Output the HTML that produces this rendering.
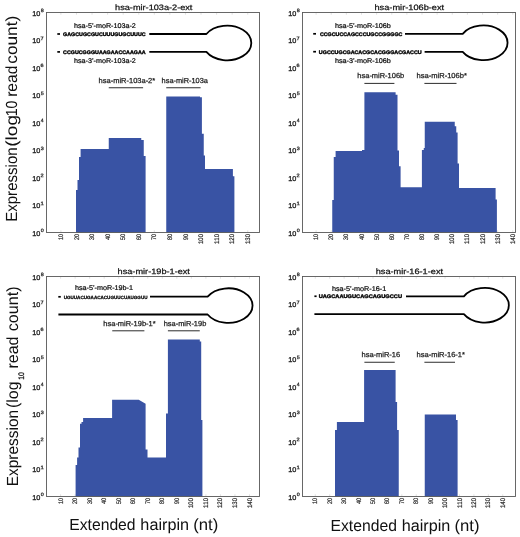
<!DOCTYPE html>
<html><head><meta charset="utf-8"><title>hairpin expression</title>
<style>
html,body{margin:0;padding:0;background:#fff;}
body{width:520px;height:537px;overflow:hidden;}
svg{display:block;font-family:"Liberation Sans", sans-serif;will-change:transform;transform:translateZ(0);}
text{font-family:"Liberation Sans", sans-serif;font-kerning:none;text-rendering:geometricPrecision;}
</style></head>
<body>
<svg width="520" height="537" viewBox="0 0 520 537">
<line x1="60.90" y1="230.30" x2="60.90" y2="232.10" stroke="#d4d4d4" stroke-width="0.7"/>
<line x1="60.90" y1="12.90" x2="60.90" y2="14.70" stroke="#d4d4d4" stroke-width="0.7"/>
<line x1="76.47" y1="230.30" x2="76.47" y2="232.10" stroke="#d4d4d4" stroke-width="0.7"/>
<line x1="76.47" y1="12.90" x2="76.47" y2="14.70" stroke="#d4d4d4" stroke-width="0.7"/>
<line x1="92.04" y1="230.30" x2="92.04" y2="232.10" stroke="#d4d4d4" stroke-width="0.7"/>
<line x1="92.04" y1="12.90" x2="92.04" y2="14.70" stroke="#d4d4d4" stroke-width="0.7"/>
<line x1="107.61" y1="230.30" x2="107.61" y2="232.10" stroke="#d4d4d4" stroke-width="0.7"/>
<line x1="107.61" y1="12.90" x2="107.61" y2="14.70" stroke="#d4d4d4" stroke-width="0.7"/>
<line x1="123.18" y1="230.30" x2="123.18" y2="232.10" stroke="#d4d4d4" stroke-width="0.7"/>
<line x1="123.18" y1="12.90" x2="123.18" y2="14.70" stroke="#d4d4d4" stroke-width="0.7"/>
<line x1="138.75" y1="230.30" x2="138.75" y2="232.10" stroke="#d4d4d4" stroke-width="0.7"/>
<line x1="138.75" y1="12.90" x2="138.75" y2="14.70" stroke="#d4d4d4" stroke-width="0.7"/>
<line x1="154.32" y1="230.30" x2="154.32" y2="232.10" stroke="#d4d4d4" stroke-width="0.7"/>
<line x1="154.32" y1="12.90" x2="154.32" y2="14.70" stroke="#d4d4d4" stroke-width="0.7"/>
<line x1="169.89" y1="230.30" x2="169.89" y2="232.10" stroke="#d4d4d4" stroke-width="0.7"/>
<line x1="169.89" y1="12.90" x2="169.89" y2="14.70" stroke="#d4d4d4" stroke-width="0.7"/>
<line x1="185.46" y1="230.30" x2="185.46" y2="232.10" stroke="#d4d4d4" stroke-width="0.7"/>
<line x1="185.46" y1="12.90" x2="185.46" y2="14.70" stroke="#d4d4d4" stroke-width="0.7"/>
<line x1="201.03" y1="230.30" x2="201.03" y2="232.10" stroke="#d4d4d4" stroke-width="0.7"/>
<line x1="201.03" y1="12.90" x2="201.03" y2="14.70" stroke="#d4d4d4" stroke-width="0.7"/>
<line x1="216.60" y1="230.30" x2="216.60" y2="232.10" stroke="#d4d4d4" stroke-width="0.7"/>
<line x1="216.60" y1="12.90" x2="216.60" y2="14.70" stroke="#d4d4d4" stroke-width="0.7"/>
<line x1="232.17" y1="230.30" x2="232.17" y2="232.10" stroke="#d4d4d4" stroke-width="0.7"/>
<line x1="232.17" y1="12.90" x2="232.17" y2="14.70" stroke="#d4d4d4" stroke-width="0.7"/>
<line x1="247.74" y1="230.30" x2="247.74" y2="232.10" stroke="#d4d4d4" stroke-width="0.7"/>
<line x1="247.74" y1="12.90" x2="247.74" y2="14.70" stroke="#d4d4d4" stroke-width="0.7"/>
<line x1="316.10" y1="230.30" x2="316.10" y2="232.10" stroke="#d4d4d4" stroke-width="0.7"/>
<line x1="316.10" y1="12.90" x2="316.10" y2="14.70" stroke="#d4d4d4" stroke-width="0.7"/>
<line x1="331.23" y1="230.30" x2="331.23" y2="232.10" stroke="#d4d4d4" stroke-width="0.7"/>
<line x1="331.23" y1="12.90" x2="331.23" y2="14.70" stroke="#d4d4d4" stroke-width="0.7"/>
<line x1="346.36" y1="230.30" x2="346.36" y2="232.10" stroke="#d4d4d4" stroke-width="0.7"/>
<line x1="346.36" y1="12.90" x2="346.36" y2="14.70" stroke="#d4d4d4" stroke-width="0.7"/>
<line x1="361.49" y1="230.30" x2="361.49" y2="232.10" stroke="#d4d4d4" stroke-width="0.7"/>
<line x1="361.49" y1="12.90" x2="361.49" y2="14.70" stroke="#d4d4d4" stroke-width="0.7"/>
<line x1="376.62" y1="230.30" x2="376.62" y2="232.10" stroke="#d4d4d4" stroke-width="0.7"/>
<line x1="376.62" y1="12.90" x2="376.62" y2="14.70" stroke="#d4d4d4" stroke-width="0.7"/>
<line x1="391.75" y1="230.30" x2="391.75" y2="232.10" stroke="#d4d4d4" stroke-width="0.7"/>
<line x1="391.75" y1="12.90" x2="391.75" y2="14.70" stroke="#d4d4d4" stroke-width="0.7"/>
<line x1="406.88" y1="230.30" x2="406.88" y2="232.10" stroke="#d4d4d4" stroke-width="0.7"/>
<line x1="406.88" y1="12.90" x2="406.88" y2="14.70" stroke="#d4d4d4" stroke-width="0.7"/>
<line x1="422.01" y1="230.30" x2="422.01" y2="232.10" stroke="#d4d4d4" stroke-width="0.7"/>
<line x1="422.01" y1="12.90" x2="422.01" y2="14.70" stroke="#d4d4d4" stroke-width="0.7"/>
<line x1="437.14" y1="230.30" x2="437.14" y2="232.10" stroke="#d4d4d4" stroke-width="0.7"/>
<line x1="437.14" y1="12.90" x2="437.14" y2="14.70" stroke="#d4d4d4" stroke-width="0.7"/>
<line x1="452.27" y1="230.30" x2="452.27" y2="232.10" stroke="#d4d4d4" stroke-width="0.7"/>
<line x1="452.27" y1="12.90" x2="452.27" y2="14.70" stroke="#d4d4d4" stroke-width="0.7"/>
<line x1="467.40" y1="230.30" x2="467.40" y2="232.10" stroke="#d4d4d4" stroke-width="0.7"/>
<line x1="467.40" y1="12.90" x2="467.40" y2="14.70" stroke="#d4d4d4" stroke-width="0.7"/>
<line x1="482.53" y1="230.30" x2="482.53" y2="232.10" stroke="#d4d4d4" stroke-width="0.7"/>
<line x1="482.53" y1="12.90" x2="482.53" y2="14.70" stroke="#d4d4d4" stroke-width="0.7"/>
<line x1="497.66" y1="230.30" x2="497.66" y2="232.10" stroke="#d4d4d4" stroke-width="0.7"/>
<line x1="497.66" y1="12.90" x2="497.66" y2="14.70" stroke="#d4d4d4" stroke-width="0.7"/>
<line x1="512.79" y1="230.30" x2="512.79" y2="232.10" stroke="#d4d4d4" stroke-width="0.7"/>
<line x1="512.79" y1="12.90" x2="512.79" y2="14.70" stroke="#d4d4d4" stroke-width="0.7"/>
<line x1="60.60" y1="494.30" x2="60.60" y2="496.10" stroke="#d4d4d4" stroke-width="0.7"/>
<line x1="60.60" y1="276.90" x2="60.60" y2="278.70" stroke="#d4d4d4" stroke-width="0.7"/>
<line x1="75.13" y1="494.30" x2="75.13" y2="496.10" stroke="#d4d4d4" stroke-width="0.7"/>
<line x1="75.13" y1="276.90" x2="75.13" y2="278.70" stroke="#d4d4d4" stroke-width="0.7"/>
<line x1="89.66" y1="494.30" x2="89.66" y2="496.10" stroke="#d4d4d4" stroke-width="0.7"/>
<line x1="89.66" y1="276.90" x2="89.66" y2="278.70" stroke="#d4d4d4" stroke-width="0.7"/>
<line x1="104.19" y1="494.30" x2="104.19" y2="496.10" stroke="#d4d4d4" stroke-width="0.7"/>
<line x1="104.19" y1="276.90" x2="104.19" y2="278.70" stroke="#d4d4d4" stroke-width="0.7"/>
<line x1="118.72" y1="494.30" x2="118.72" y2="496.10" stroke="#d4d4d4" stroke-width="0.7"/>
<line x1="118.72" y1="276.90" x2="118.72" y2="278.70" stroke="#d4d4d4" stroke-width="0.7"/>
<line x1="133.25" y1="494.30" x2="133.25" y2="496.10" stroke="#d4d4d4" stroke-width="0.7"/>
<line x1="133.25" y1="276.90" x2="133.25" y2="278.70" stroke="#d4d4d4" stroke-width="0.7"/>
<line x1="147.78" y1="494.30" x2="147.78" y2="496.10" stroke="#d4d4d4" stroke-width="0.7"/>
<line x1="147.78" y1="276.90" x2="147.78" y2="278.70" stroke="#d4d4d4" stroke-width="0.7"/>
<line x1="162.31" y1="494.30" x2="162.31" y2="496.10" stroke="#d4d4d4" stroke-width="0.7"/>
<line x1="162.31" y1="276.90" x2="162.31" y2="278.70" stroke="#d4d4d4" stroke-width="0.7"/>
<line x1="176.84" y1="494.30" x2="176.84" y2="496.10" stroke="#d4d4d4" stroke-width="0.7"/>
<line x1="176.84" y1="276.90" x2="176.84" y2="278.70" stroke="#d4d4d4" stroke-width="0.7"/>
<line x1="191.37" y1="494.30" x2="191.37" y2="496.10" stroke="#d4d4d4" stroke-width="0.7"/>
<line x1="191.37" y1="276.90" x2="191.37" y2="278.70" stroke="#d4d4d4" stroke-width="0.7"/>
<line x1="205.90" y1="494.30" x2="205.90" y2="496.10" stroke="#d4d4d4" stroke-width="0.7"/>
<line x1="205.90" y1="276.90" x2="205.90" y2="278.70" stroke="#d4d4d4" stroke-width="0.7"/>
<line x1="220.43" y1="494.30" x2="220.43" y2="496.10" stroke="#d4d4d4" stroke-width="0.7"/>
<line x1="220.43" y1="276.90" x2="220.43" y2="278.70" stroke="#d4d4d4" stroke-width="0.7"/>
<line x1="234.96" y1="494.30" x2="234.96" y2="496.10" stroke="#d4d4d4" stroke-width="0.7"/>
<line x1="234.96" y1="276.90" x2="234.96" y2="278.70" stroke="#d4d4d4" stroke-width="0.7"/>
<line x1="249.49" y1="494.30" x2="249.49" y2="496.10" stroke="#d4d4d4" stroke-width="0.7"/>
<line x1="249.49" y1="276.90" x2="249.49" y2="278.70" stroke="#d4d4d4" stroke-width="0.7"/>
<line x1="315.30" y1="494.30" x2="315.30" y2="496.10" stroke="#d4d4d4" stroke-width="0.7"/>
<line x1="315.30" y1="276.90" x2="315.30" y2="278.70" stroke="#d4d4d4" stroke-width="0.7"/>
<line x1="329.72" y1="494.30" x2="329.72" y2="496.10" stroke="#d4d4d4" stroke-width="0.7"/>
<line x1="329.72" y1="276.90" x2="329.72" y2="278.70" stroke="#d4d4d4" stroke-width="0.7"/>
<line x1="344.14" y1="494.30" x2="344.14" y2="496.10" stroke="#d4d4d4" stroke-width="0.7"/>
<line x1="344.14" y1="276.90" x2="344.14" y2="278.70" stroke="#d4d4d4" stroke-width="0.7"/>
<line x1="358.56" y1="494.30" x2="358.56" y2="496.10" stroke="#d4d4d4" stroke-width="0.7"/>
<line x1="358.56" y1="276.90" x2="358.56" y2="278.70" stroke="#d4d4d4" stroke-width="0.7"/>
<line x1="372.98" y1="494.30" x2="372.98" y2="496.10" stroke="#d4d4d4" stroke-width="0.7"/>
<line x1="372.98" y1="276.90" x2="372.98" y2="278.70" stroke="#d4d4d4" stroke-width="0.7"/>
<line x1="387.40" y1="494.30" x2="387.40" y2="496.10" stroke="#d4d4d4" stroke-width="0.7"/>
<line x1="387.40" y1="276.90" x2="387.40" y2="278.70" stroke="#d4d4d4" stroke-width="0.7"/>
<line x1="401.82" y1="494.30" x2="401.82" y2="496.10" stroke="#d4d4d4" stroke-width="0.7"/>
<line x1="401.82" y1="276.90" x2="401.82" y2="278.70" stroke="#d4d4d4" stroke-width="0.7"/>
<line x1="416.24" y1="494.30" x2="416.24" y2="496.10" stroke="#d4d4d4" stroke-width="0.7"/>
<line x1="416.24" y1="276.90" x2="416.24" y2="278.70" stroke="#d4d4d4" stroke-width="0.7"/>
<line x1="430.66" y1="494.30" x2="430.66" y2="496.10" stroke="#d4d4d4" stroke-width="0.7"/>
<line x1="430.66" y1="276.90" x2="430.66" y2="278.70" stroke="#d4d4d4" stroke-width="0.7"/>
<line x1="445.08" y1="494.30" x2="445.08" y2="496.10" stroke="#d4d4d4" stroke-width="0.7"/>
<line x1="445.08" y1="276.90" x2="445.08" y2="278.70" stroke="#d4d4d4" stroke-width="0.7"/>
<line x1="459.50" y1="494.30" x2="459.50" y2="496.10" stroke="#d4d4d4" stroke-width="0.7"/>
<line x1="459.50" y1="276.90" x2="459.50" y2="278.70" stroke="#d4d4d4" stroke-width="0.7"/>
<line x1="473.92" y1="494.30" x2="473.92" y2="496.10" stroke="#d4d4d4" stroke-width="0.7"/>
<line x1="473.92" y1="276.90" x2="473.92" y2="278.70" stroke="#d4d4d4" stroke-width="0.7"/>
<line x1="488.34" y1="494.30" x2="488.34" y2="496.10" stroke="#d4d4d4" stroke-width="0.7"/>
<line x1="488.34" y1="276.90" x2="488.34" y2="278.70" stroke="#d4d4d4" stroke-width="0.7"/>
<line x1="502.76" y1="494.30" x2="502.76" y2="496.10" stroke="#d4d4d4" stroke-width="0.7"/>
<line x1="502.76" y1="276.90" x2="502.76" y2="278.70" stroke="#d4d4d4" stroke-width="0.7"/>
<path d="M76.00,232.50 L76.00,190.00 L77.50,190.00 L77.50,180.00 L79.00,180.00 L79.00,157.00 L80.60,157.00 L80.60,149.00 L108.75,149.00 L108.75,138.10 L141.25,138.10 L141.25,140.00 L143.75,140.00 L143.75,156.00 L145.60,156.00 L145.60,232.50 Z" fill="#3953a4" stroke="none"/>
<path d="M166.25,232.50 L166.25,96.50 L200.00,96.50 L200.00,97.20 L201.90,97.20 L201.90,133.75 L203.75,133.75 L203.75,155.60 L205.00,155.60 L205.00,169.00 L232.90,169.00 L232.90,176.25 L234.40,176.25 L234.40,232.50 Z" fill="#3953a4" stroke="none"/>
<path d="M332.25,232.50 L332.25,200.00 L333.75,200.00 L333.75,157.00 L335.60,157.00 L335.60,151.00 L362.00,151.00 L362.00,150.00 L364.40,150.00 L364.40,92.25 L395.60,92.25 L395.60,94.75 L397.50,94.75 L397.50,150.60 L399.00,150.60 L399.00,166.25 L400.60,166.25 L400.60,187.25 L421.90,187.25 L421.90,150.00 L423.75,150.00 L423.75,148.00 L424.75,148.00 L424.75,121.70 L454.75,121.70 L454.75,126.25 L456.25,126.25 L456.25,132.50 L457.60,132.50 L457.60,163.50 L459.00,163.50 L459.00,188.10 L495.60,188.10 L495.60,199.40 L496.90,199.40 L496.90,232.50 Z" fill="#3953a4" stroke="none"/>
<path d="M75.60,496.50 L75.60,465.00 L77.10,465.00 L77.10,457.50 L78.50,457.50 L78.50,447.50 L80.00,447.50 L80.00,423.75 L81.50,423.75 L81.50,421.90 L83.10,421.90 L83.10,418.10 L112.10,418.10 L112.10,399.75 L138.75,399.75 L145.60,403.75 L145.60,449.40 L147.50,449.40 L147.50,457.50 L166.00,457.50 L166.00,413.50 L167.90,413.50 L167.90,339.50 L199.80,339.50 L199.80,341.40 L201.20,341.40 L201.20,420.00 L202.40,420.00 L202.40,496.50 Z" fill="#3953a4" stroke="none"/>
<path d="M335.00,496.50 L335.00,430.00 L336.90,430.00 L336.90,421.90 L364.10,421.90 L364.10,370.00 L395.60,370.00 L395.60,402.00 L397.10,402.00 L397.10,430.00 L398.75,430.00 L398.75,496.50 Z" fill="#3953a4" stroke="none"/>
<path d="M424.75,496.50 L424.75,414.40 L456.00,414.40 L456.00,420.00 L457.60,420.00 L457.60,496.50 Z" fill="#3953a4" stroke="none"/>
<rect x="46.5" y="12.5" width="213.0" height="220.0" fill="none" stroke="#585858" stroke-width="0.9"/>
<rect x="302.5" y="12.5" width="213.0" height="220.0" fill="none" stroke="#585858" stroke-width="0.9"/>
<rect x="46.5" y="276.5" width="213.0" height="220.0" fill="none" stroke="#585858" stroke-width="0.9"/>
<rect x="302.5" y="276.5" width="213.0" height="220.0" fill="none" stroke="#585858" stroke-width="0.9"/>
<text x="32.19" y="15.90" font-size="6.9" font-weight="normal" fill="#262626" stroke="#262626" stroke-width="0.3" textLength="8.14" lengthAdjust="spacingAndGlyphs" >10</text>
<text x="40.69" y="12.10" font-size="4.8" font-weight="normal" fill="#262626" stroke="#262626" stroke-width="0.25" textLength="3.02" lengthAdjust="spacingAndGlyphs" >8</text>
<text x="32.19" y="43.40" font-size="6.9" font-weight="normal" fill="#262626" stroke="#262626" stroke-width="0.3" textLength="8.14" lengthAdjust="spacingAndGlyphs" >10</text>
<text x="40.64" y="39.60" font-size="4.8" font-weight="normal" fill="#262626" stroke="#262626" stroke-width="0.25" textLength="3.12" lengthAdjust="spacingAndGlyphs" >7</text>
<text x="32.19" y="70.90" font-size="6.9" font-weight="normal" fill="#262626" stroke="#262626" stroke-width="0.3" textLength="8.14" lengthAdjust="spacingAndGlyphs" >10</text>
<text x="40.64" y="67.10" font-size="4.8" font-weight="normal" fill="#262626" stroke="#262626" stroke-width="0.25" textLength="3.07" lengthAdjust="spacingAndGlyphs" >6</text>
<text x="32.19" y="98.40" font-size="6.9" font-weight="normal" fill="#262626" stroke="#262626" stroke-width="0.3" textLength="8.14" lengthAdjust="spacingAndGlyphs" >10</text>
<text x="40.71" y="94.60" font-size="4.8" font-weight="normal" fill="#262626" stroke="#262626" stroke-width="0.25" textLength="2.99" lengthAdjust="spacingAndGlyphs" >5</text>
<text x="32.19" y="125.90" font-size="6.9" font-weight="normal" fill="#262626" stroke="#262626" stroke-width="0.3" textLength="8.14" lengthAdjust="spacingAndGlyphs" >10</text>
<text x="40.81" y="122.10" font-size="4.8" font-weight="normal" fill="#262626" stroke="#262626" stroke-width="0.25" textLength="2.81" lengthAdjust="spacingAndGlyphs" >4</text>
<text x="32.19" y="153.40" font-size="6.9" font-weight="normal" fill="#262626" stroke="#262626" stroke-width="0.3" textLength="8.14" lengthAdjust="spacingAndGlyphs" >10</text>
<text x="40.72" y="149.60" font-size="4.8" font-weight="normal" fill="#262626" stroke="#262626" stroke-width="0.25" textLength="2.99" lengthAdjust="spacingAndGlyphs" >3</text>
<text x="32.19" y="180.90" font-size="6.9" font-weight="normal" fill="#262626" stroke="#262626" stroke-width="0.3" textLength="8.14" lengthAdjust="spacingAndGlyphs" >10</text>
<text x="40.64" y="177.10" font-size="4.8" font-weight="normal" fill="#262626" stroke="#262626" stroke-width="0.25" textLength="3.11" lengthAdjust="spacingAndGlyphs" >2</text>
<text x="32.19" y="208.40" font-size="6.9" font-weight="normal" fill="#262626" stroke="#262626" stroke-width="0.3" textLength="8.14" lengthAdjust="spacingAndGlyphs" >10</text>
<text x="40.47" y="204.60" font-size="4.8" font-weight="normal" fill="#262626" stroke="#262626" stroke-width="0.25" textLength="3.29" lengthAdjust="spacingAndGlyphs" >1</text>
<text x="32.19" y="235.90" font-size="6.9" font-weight="normal" fill="#262626" stroke="#262626" stroke-width="0.3" textLength="8.14" lengthAdjust="spacingAndGlyphs" >10</text>
<text x="40.72" y="232.10" font-size="4.8" font-weight="normal" fill="#262626" stroke="#262626" stroke-width="0.25" textLength="2.97" lengthAdjust="spacingAndGlyphs" >0</text>
<text x="288.19" y="15.90" font-size="6.9" font-weight="normal" fill="#262626" stroke="#262626" stroke-width="0.3" textLength="8.14" lengthAdjust="spacingAndGlyphs" >10</text>
<text x="296.69" y="12.10" font-size="4.8" font-weight="normal" fill="#262626" stroke="#262626" stroke-width="0.25" textLength="3.02" lengthAdjust="spacingAndGlyphs" >8</text>
<text x="288.19" y="43.40" font-size="6.9" font-weight="normal" fill="#262626" stroke="#262626" stroke-width="0.3" textLength="8.14" lengthAdjust="spacingAndGlyphs" >10</text>
<text x="296.64" y="39.60" font-size="4.8" font-weight="normal" fill="#262626" stroke="#262626" stroke-width="0.25" textLength="3.12" lengthAdjust="spacingAndGlyphs" >7</text>
<text x="288.19" y="70.90" font-size="6.9" font-weight="normal" fill="#262626" stroke="#262626" stroke-width="0.3" textLength="8.14" lengthAdjust="spacingAndGlyphs" >10</text>
<text x="296.64" y="67.10" font-size="4.8" font-weight="normal" fill="#262626" stroke="#262626" stroke-width="0.25" textLength="3.07" lengthAdjust="spacingAndGlyphs" >6</text>
<text x="288.19" y="98.40" font-size="6.9" font-weight="normal" fill="#262626" stroke="#262626" stroke-width="0.3" textLength="8.14" lengthAdjust="spacingAndGlyphs" >10</text>
<text x="296.71" y="94.60" font-size="4.8" font-weight="normal" fill="#262626" stroke="#262626" stroke-width="0.25" textLength="2.99" lengthAdjust="spacingAndGlyphs" >5</text>
<text x="288.19" y="125.90" font-size="6.9" font-weight="normal" fill="#262626" stroke="#262626" stroke-width="0.3" textLength="8.14" lengthAdjust="spacingAndGlyphs" >10</text>
<text x="296.81" y="122.10" font-size="4.8" font-weight="normal" fill="#262626" stroke="#262626" stroke-width="0.25" textLength="2.81" lengthAdjust="spacingAndGlyphs" >4</text>
<text x="288.19" y="153.40" font-size="6.9" font-weight="normal" fill="#262626" stroke="#262626" stroke-width="0.3" textLength="8.14" lengthAdjust="spacingAndGlyphs" >10</text>
<text x="296.72" y="149.60" font-size="4.8" font-weight="normal" fill="#262626" stroke="#262626" stroke-width="0.25" textLength="2.99" lengthAdjust="spacingAndGlyphs" >3</text>
<text x="288.19" y="180.90" font-size="6.9" font-weight="normal" fill="#262626" stroke="#262626" stroke-width="0.3" textLength="8.14" lengthAdjust="spacingAndGlyphs" >10</text>
<text x="296.64" y="177.10" font-size="4.8" font-weight="normal" fill="#262626" stroke="#262626" stroke-width="0.25" textLength="3.11" lengthAdjust="spacingAndGlyphs" >2</text>
<text x="288.19" y="208.40" font-size="6.9" font-weight="normal" fill="#262626" stroke="#262626" stroke-width="0.3" textLength="8.14" lengthAdjust="spacingAndGlyphs" >10</text>
<text x="296.47" y="204.60" font-size="4.8" font-weight="normal" fill="#262626" stroke="#262626" stroke-width="0.25" textLength="3.29" lengthAdjust="spacingAndGlyphs" >1</text>
<text x="288.19" y="235.90" font-size="6.9" font-weight="normal" fill="#262626" stroke="#262626" stroke-width="0.3" textLength="8.14" lengthAdjust="spacingAndGlyphs" >10</text>
<text x="296.72" y="232.10" font-size="4.8" font-weight="normal" fill="#262626" stroke="#262626" stroke-width="0.25" textLength="2.97" lengthAdjust="spacingAndGlyphs" >0</text>
<text x="32.19" y="279.90" font-size="6.9" font-weight="normal" fill="#262626" stroke="#262626" stroke-width="0.3" textLength="8.14" lengthAdjust="spacingAndGlyphs" >10</text>
<text x="40.69" y="276.10" font-size="4.8" font-weight="normal" fill="#262626" stroke="#262626" stroke-width="0.25" textLength="3.02" lengthAdjust="spacingAndGlyphs" >8</text>
<text x="32.19" y="307.40" font-size="6.9" font-weight="normal" fill="#262626" stroke="#262626" stroke-width="0.3" textLength="8.14" lengthAdjust="spacingAndGlyphs" >10</text>
<text x="40.64" y="303.60" font-size="4.8" font-weight="normal" fill="#262626" stroke="#262626" stroke-width="0.25" textLength="3.12" lengthAdjust="spacingAndGlyphs" >7</text>
<text x="32.19" y="334.90" font-size="6.9" font-weight="normal" fill="#262626" stroke="#262626" stroke-width="0.3" textLength="8.14" lengthAdjust="spacingAndGlyphs" >10</text>
<text x="40.64" y="331.10" font-size="4.8" font-weight="normal" fill="#262626" stroke="#262626" stroke-width="0.25" textLength="3.07" lengthAdjust="spacingAndGlyphs" >6</text>
<text x="32.19" y="362.40" font-size="6.9" font-weight="normal" fill="#262626" stroke="#262626" stroke-width="0.3" textLength="8.14" lengthAdjust="spacingAndGlyphs" >10</text>
<text x="40.71" y="358.60" font-size="4.8" font-weight="normal" fill="#262626" stroke="#262626" stroke-width="0.25" textLength="2.99" lengthAdjust="spacingAndGlyphs" >5</text>
<text x="32.19" y="389.90" font-size="6.9" font-weight="normal" fill="#262626" stroke="#262626" stroke-width="0.3" textLength="8.14" lengthAdjust="spacingAndGlyphs" >10</text>
<text x="40.81" y="386.10" font-size="4.8" font-weight="normal" fill="#262626" stroke="#262626" stroke-width="0.25" textLength="2.81" lengthAdjust="spacingAndGlyphs" >4</text>
<text x="32.19" y="417.40" font-size="6.9" font-weight="normal" fill="#262626" stroke="#262626" stroke-width="0.3" textLength="8.14" lengthAdjust="spacingAndGlyphs" >10</text>
<text x="40.72" y="413.60" font-size="4.8" font-weight="normal" fill="#262626" stroke="#262626" stroke-width="0.25" textLength="2.99" lengthAdjust="spacingAndGlyphs" >3</text>
<text x="32.19" y="444.90" font-size="6.9" font-weight="normal" fill="#262626" stroke="#262626" stroke-width="0.3" textLength="8.14" lengthAdjust="spacingAndGlyphs" >10</text>
<text x="40.64" y="441.10" font-size="4.8" font-weight="normal" fill="#262626" stroke="#262626" stroke-width="0.25" textLength="3.11" lengthAdjust="spacingAndGlyphs" >2</text>
<text x="32.19" y="472.40" font-size="6.9" font-weight="normal" fill="#262626" stroke="#262626" stroke-width="0.3" textLength="8.14" lengthAdjust="spacingAndGlyphs" >10</text>
<text x="40.47" y="468.60" font-size="4.8" font-weight="normal" fill="#262626" stroke="#262626" stroke-width="0.25" textLength="3.29" lengthAdjust="spacingAndGlyphs" >1</text>
<text x="32.19" y="499.90" font-size="6.9" font-weight="normal" fill="#262626" stroke="#262626" stroke-width="0.3" textLength="8.14" lengthAdjust="spacingAndGlyphs" >10</text>
<text x="40.72" y="496.10" font-size="4.8" font-weight="normal" fill="#262626" stroke="#262626" stroke-width="0.25" textLength="2.97" lengthAdjust="spacingAndGlyphs" >0</text>
<text x="288.19" y="279.90" font-size="6.9" font-weight="normal" fill="#262626" stroke="#262626" stroke-width="0.3" textLength="8.14" lengthAdjust="spacingAndGlyphs" >10</text>
<text x="296.69" y="276.10" font-size="4.8" font-weight="normal" fill="#262626" stroke="#262626" stroke-width="0.25" textLength="3.02" lengthAdjust="spacingAndGlyphs" >8</text>
<text x="288.19" y="307.40" font-size="6.9" font-weight="normal" fill="#262626" stroke="#262626" stroke-width="0.3" textLength="8.14" lengthAdjust="spacingAndGlyphs" >10</text>
<text x="296.64" y="303.60" font-size="4.8" font-weight="normal" fill="#262626" stroke="#262626" stroke-width="0.25" textLength="3.12" lengthAdjust="spacingAndGlyphs" >7</text>
<text x="288.19" y="334.90" font-size="6.9" font-weight="normal" fill="#262626" stroke="#262626" stroke-width="0.3" textLength="8.14" lengthAdjust="spacingAndGlyphs" >10</text>
<text x="296.64" y="331.10" font-size="4.8" font-weight="normal" fill="#262626" stroke="#262626" stroke-width="0.25" textLength="3.07" lengthAdjust="spacingAndGlyphs" >6</text>
<text x="288.19" y="362.40" font-size="6.9" font-weight="normal" fill="#262626" stroke="#262626" stroke-width="0.3" textLength="8.14" lengthAdjust="spacingAndGlyphs" >10</text>
<text x="296.71" y="358.60" font-size="4.8" font-weight="normal" fill="#262626" stroke="#262626" stroke-width="0.25" textLength="2.99" lengthAdjust="spacingAndGlyphs" >5</text>
<text x="288.19" y="389.90" font-size="6.9" font-weight="normal" fill="#262626" stroke="#262626" stroke-width="0.3" textLength="8.14" lengthAdjust="spacingAndGlyphs" >10</text>
<text x="296.81" y="386.10" font-size="4.8" font-weight="normal" fill="#262626" stroke="#262626" stroke-width="0.25" textLength="2.81" lengthAdjust="spacingAndGlyphs" >4</text>
<text x="288.19" y="417.40" font-size="6.9" font-weight="normal" fill="#262626" stroke="#262626" stroke-width="0.3" textLength="8.14" lengthAdjust="spacingAndGlyphs" >10</text>
<text x="296.72" y="413.60" font-size="4.8" font-weight="normal" fill="#262626" stroke="#262626" stroke-width="0.25" textLength="2.99" lengthAdjust="spacingAndGlyphs" >3</text>
<text x="288.19" y="444.90" font-size="6.9" font-weight="normal" fill="#262626" stroke="#262626" stroke-width="0.3" textLength="8.14" lengthAdjust="spacingAndGlyphs" >10</text>
<text x="296.64" y="441.10" font-size="4.8" font-weight="normal" fill="#262626" stroke="#262626" stroke-width="0.25" textLength="3.11" lengthAdjust="spacingAndGlyphs" >2</text>
<text x="288.19" y="472.40" font-size="6.9" font-weight="normal" fill="#262626" stroke="#262626" stroke-width="0.3" textLength="8.14" lengthAdjust="spacingAndGlyphs" >10</text>
<text x="296.47" y="468.60" font-size="4.8" font-weight="normal" fill="#262626" stroke="#262626" stroke-width="0.25" textLength="3.29" lengthAdjust="spacingAndGlyphs" >1</text>
<text x="288.19" y="499.90" font-size="6.9" font-weight="normal" fill="#262626" stroke="#262626" stroke-width="0.3" textLength="8.14" lengthAdjust="spacingAndGlyphs" >10</text>
<text x="296.72" y="496.10" font-size="4.8" font-weight="normal" fill="#262626" stroke="#262626" stroke-width="0.25" textLength="2.97" lengthAdjust="spacingAndGlyphs" >0</text>
<text transform="translate(62.95,240.12) rotate(-90)" font-size="6.6" font-weight="normal" fill="#262626" stroke="#262626" stroke-width="0.2" textLength="6.14" lengthAdjust="spacingAndGlyphs">10</text>
<text transform="translate(78.52,239.97) rotate(-90)" font-size="6.6" font-weight="normal" fill="#262626" stroke="#262626" stroke-width="0.2" textLength="5.98" lengthAdjust="spacingAndGlyphs">20</text>
<text transform="translate(94.09,239.90) rotate(-90)" font-size="6.6" font-weight="normal" fill="#262626" stroke="#262626" stroke-width="0.2" textLength="5.91" lengthAdjust="spacingAndGlyphs">30</text>
<text transform="translate(109.66,239.82) rotate(-90)" font-size="6.6" font-weight="normal" fill="#262626" stroke="#262626" stroke-width="0.2" textLength="5.82" lengthAdjust="spacingAndGlyphs">40</text>
<text transform="translate(125.23,239.91) rotate(-90)" font-size="6.6" font-weight="normal" fill="#262626" stroke="#262626" stroke-width="0.2" textLength="5.92" lengthAdjust="spacingAndGlyphs">50</text>
<text transform="translate(140.80,239.97) rotate(-90)" font-size="6.6" font-weight="normal" fill="#262626" stroke="#262626" stroke-width="0.2" textLength="5.98" lengthAdjust="spacingAndGlyphs">60</text>
<text transform="translate(156.37,239.98) rotate(-90)" font-size="6.6" font-weight="normal" fill="#262626" stroke="#262626" stroke-width="0.2" textLength="5.99" lengthAdjust="spacingAndGlyphs">70</text>
<text transform="translate(171.94,239.93) rotate(-90)" font-size="6.6" font-weight="normal" fill="#262626" stroke="#262626" stroke-width="0.2" textLength="5.94" lengthAdjust="spacingAndGlyphs">80</text>
<text transform="translate(187.51,239.95) rotate(-90)" font-size="6.6" font-weight="normal" fill="#262626" stroke="#262626" stroke-width="0.2" textLength="5.96" lengthAdjust="spacingAndGlyphs">90</text>
<text transform="translate(203.08,244.06) rotate(-90)" font-size="6.6" font-weight="normal" fill="#262626" stroke="#262626" stroke-width="0.2" textLength="10.10" lengthAdjust="spacingAndGlyphs">100</text>
<text transform="translate(218.65,244.06) rotate(-90)" font-size="6.6" font-weight="normal" fill="#262626" stroke="#262626" stroke-width="0.2" textLength="10.10" lengthAdjust="spacingAndGlyphs">110</text>
<text transform="translate(234.22,244.06) rotate(-90)" font-size="6.6" font-weight="normal" fill="#262626" stroke="#262626" stroke-width="0.2" textLength="10.10" lengthAdjust="spacingAndGlyphs">120</text>
<text transform="translate(249.79,244.06) rotate(-90)" font-size="6.6" font-weight="normal" fill="#262626" stroke="#262626" stroke-width="0.2" textLength="10.10" lengthAdjust="spacingAndGlyphs">130</text>
<text transform="translate(318.15,240.12) rotate(-90)" font-size="6.6" font-weight="normal" fill="#262626" stroke="#262626" stroke-width="0.2" textLength="6.14" lengthAdjust="spacingAndGlyphs">10</text>
<text transform="translate(333.28,239.97) rotate(-90)" font-size="6.6" font-weight="normal" fill="#262626" stroke="#262626" stroke-width="0.2" textLength="5.98" lengthAdjust="spacingAndGlyphs">20</text>
<text transform="translate(348.41,239.90) rotate(-90)" font-size="6.6" font-weight="normal" fill="#262626" stroke="#262626" stroke-width="0.2" textLength="5.91" lengthAdjust="spacingAndGlyphs">30</text>
<text transform="translate(363.54,239.82) rotate(-90)" font-size="6.6" font-weight="normal" fill="#262626" stroke="#262626" stroke-width="0.2" textLength="5.82" lengthAdjust="spacingAndGlyphs">40</text>
<text transform="translate(378.67,239.91) rotate(-90)" font-size="6.6" font-weight="normal" fill="#262626" stroke="#262626" stroke-width="0.2" textLength="5.92" lengthAdjust="spacingAndGlyphs">50</text>
<text transform="translate(393.80,239.97) rotate(-90)" font-size="6.6" font-weight="normal" fill="#262626" stroke="#262626" stroke-width="0.2" textLength="5.98" lengthAdjust="spacingAndGlyphs">60</text>
<text transform="translate(408.93,239.98) rotate(-90)" font-size="6.6" font-weight="normal" fill="#262626" stroke="#262626" stroke-width="0.2" textLength="5.99" lengthAdjust="spacingAndGlyphs">70</text>
<text transform="translate(424.06,239.93) rotate(-90)" font-size="6.6" font-weight="normal" fill="#262626" stroke="#262626" stroke-width="0.2" textLength="5.94" lengthAdjust="spacingAndGlyphs">80</text>
<text transform="translate(439.19,239.95) rotate(-90)" font-size="6.6" font-weight="normal" fill="#262626" stroke="#262626" stroke-width="0.2" textLength="5.96" lengthAdjust="spacingAndGlyphs">90</text>
<text transform="translate(454.32,244.06) rotate(-90)" font-size="6.6" font-weight="normal" fill="#262626" stroke="#262626" stroke-width="0.2" textLength="10.10" lengthAdjust="spacingAndGlyphs">100</text>
<text transform="translate(469.45,244.06) rotate(-90)" font-size="6.6" font-weight="normal" fill="#262626" stroke="#262626" stroke-width="0.2" textLength="10.10" lengthAdjust="spacingAndGlyphs">110</text>
<text transform="translate(484.58,244.06) rotate(-90)" font-size="6.6" font-weight="normal" fill="#262626" stroke="#262626" stroke-width="0.2" textLength="10.10" lengthAdjust="spacingAndGlyphs">120</text>
<text transform="translate(499.71,244.06) rotate(-90)" font-size="6.6" font-weight="normal" fill="#262626" stroke="#262626" stroke-width="0.2" textLength="10.10" lengthAdjust="spacingAndGlyphs">130</text>
<text transform="translate(514.84,244.06) rotate(-90)" font-size="6.6" font-weight="normal" fill="#262626" stroke="#262626" stroke-width="0.2" textLength="10.10" lengthAdjust="spacingAndGlyphs">140</text>
<text transform="translate(62.65,504.12) rotate(-90)" font-size="6.6" font-weight="normal" fill="#262626" stroke="#262626" stroke-width="0.2" textLength="6.14" lengthAdjust="spacingAndGlyphs">10</text>
<text transform="translate(77.18,503.97) rotate(-90)" font-size="6.6" font-weight="normal" fill="#262626" stroke="#262626" stroke-width="0.2" textLength="5.98" lengthAdjust="spacingAndGlyphs">20</text>
<text transform="translate(91.71,503.90) rotate(-90)" font-size="6.6" font-weight="normal" fill="#262626" stroke="#262626" stroke-width="0.2" textLength="5.91" lengthAdjust="spacingAndGlyphs">30</text>
<text transform="translate(106.24,503.82) rotate(-90)" font-size="6.6" font-weight="normal" fill="#262626" stroke="#262626" stroke-width="0.2" textLength="5.82" lengthAdjust="spacingAndGlyphs">40</text>
<text transform="translate(120.77,503.91) rotate(-90)" font-size="6.6" font-weight="normal" fill="#262626" stroke="#262626" stroke-width="0.2" textLength="5.92" lengthAdjust="spacingAndGlyphs">50</text>
<text transform="translate(135.30,503.97) rotate(-90)" font-size="6.6" font-weight="normal" fill="#262626" stroke="#262626" stroke-width="0.2" textLength="5.98" lengthAdjust="spacingAndGlyphs">60</text>
<text transform="translate(149.83,503.98) rotate(-90)" font-size="6.6" font-weight="normal" fill="#262626" stroke="#262626" stroke-width="0.2" textLength="5.99" lengthAdjust="spacingAndGlyphs">70</text>
<text transform="translate(164.36,503.93) rotate(-90)" font-size="6.6" font-weight="normal" fill="#262626" stroke="#262626" stroke-width="0.2" textLength="5.94" lengthAdjust="spacingAndGlyphs">80</text>
<text transform="translate(178.89,503.95) rotate(-90)" font-size="6.6" font-weight="normal" fill="#262626" stroke="#262626" stroke-width="0.2" textLength="5.96" lengthAdjust="spacingAndGlyphs">90</text>
<text transform="translate(193.42,508.06) rotate(-90)" font-size="6.6" font-weight="normal" fill="#262626" stroke="#262626" stroke-width="0.2" textLength="10.10" lengthAdjust="spacingAndGlyphs">100</text>
<text transform="translate(207.95,508.06) rotate(-90)" font-size="6.6" font-weight="normal" fill="#262626" stroke="#262626" stroke-width="0.2" textLength="10.10" lengthAdjust="spacingAndGlyphs">110</text>
<text transform="translate(222.48,508.06) rotate(-90)" font-size="6.6" font-weight="normal" fill="#262626" stroke="#262626" stroke-width="0.2" textLength="10.10" lengthAdjust="spacingAndGlyphs">120</text>
<text transform="translate(237.01,508.06) rotate(-90)" font-size="6.6" font-weight="normal" fill="#262626" stroke="#262626" stroke-width="0.2" textLength="10.10" lengthAdjust="spacingAndGlyphs">130</text>
<text transform="translate(251.54,508.06) rotate(-90)" font-size="6.6" font-weight="normal" fill="#262626" stroke="#262626" stroke-width="0.2" textLength="10.10" lengthAdjust="spacingAndGlyphs">140</text>
<text transform="translate(317.35,504.12) rotate(-90)" font-size="6.6" font-weight="normal" fill="#262626" stroke="#262626" stroke-width="0.2" textLength="6.14" lengthAdjust="spacingAndGlyphs">10</text>
<text transform="translate(331.77,503.97) rotate(-90)" font-size="6.6" font-weight="normal" fill="#262626" stroke="#262626" stroke-width="0.2" textLength="5.98" lengthAdjust="spacingAndGlyphs">20</text>
<text transform="translate(346.19,503.90) rotate(-90)" font-size="6.6" font-weight="normal" fill="#262626" stroke="#262626" stroke-width="0.2" textLength="5.91" lengthAdjust="spacingAndGlyphs">30</text>
<text transform="translate(360.61,503.82) rotate(-90)" font-size="6.6" font-weight="normal" fill="#262626" stroke="#262626" stroke-width="0.2" textLength="5.82" lengthAdjust="spacingAndGlyphs">40</text>
<text transform="translate(375.03,503.91) rotate(-90)" font-size="6.6" font-weight="normal" fill="#262626" stroke="#262626" stroke-width="0.2" textLength="5.92" lengthAdjust="spacingAndGlyphs">50</text>
<text transform="translate(389.45,503.97) rotate(-90)" font-size="6.6" font-weight="normal" fill="#262626" stroke="#262626" stroke-width="0.2" textLength="5.98" lengthAdjust="spacingAndGlyphs">60</text>
<text transform="translate(403.87,503.98) rotate(-90)" font-size="6.6" font-weight="normal" fill="#262626" stroke="#262626" stroke-width="0.2" textLength="5.99" lengthAdjust="spacingAndGlyphs">70</text>
<text transform="translate(418.29,503.93) rotate(-90)" font-size="6.6" font-weight="normal" fill="#262626" stroke="#262626" stroke-width="0.2" textLength="5.94" lengthAdjust="spacingAndGlyphs">80</text>
<text transform="translate(432.71,503.95) rotate(-90)" font-size="6.6" font-weight="normal" fill="#262626" stroke="#262626" stroke-width="0.2" textLength="5.96" lengthAdjust="spacingAndGlyphs">90</text>
<text transform="translate(447.13,508.06) rotate(-90)" font-size="6.6" font-weight="normal" fill="#262626" stroke="#262626" stroke-width="0.2" textLength="10.10" lengthAdjust="spacingAndGlyphs">100</text>
<text transform="translate(461.55,508.06) rotate(-90)" font-size="6.6" font-weight="normal" fill="#262626" stroke="#262626" stroke-width="0.2" textLength="10.10" lengthAdjust="spacingAndGlyphs">110</text>
<text transform="translate(475.97,508.06) rotate(-90)" font-size="6.6" font-weight="normal" fill="#262626" stroke="#262626" stroke-width="0.2" textLength="10.10" lengthAdjust="spacingAndGlyphs">120</text>
<text transform="translate(490.39,508.06) rotate(-90)" font-size="6.6" font-weight="normal" fill="#262626" stroke="#262626" stroke-width="0.2" textLength="10.10" lengthAdjust="spacingAndGlyphs">130</text>
<text transform="translate(504.81,508.06) rotate(-90)" font-size="6.6" font-weight="normal" fill="#262626" stroke="#262626" stroke-width="0.2" textLength="10.10" lengthAdjust="spacingAndGlyphs">140</text>
<text x="115.09" y="9.90" font-size="7.8" font-weight="normal" fill="#141414" stroke="#141414" stroke-width="0.25" textLength="77.35" lengthAdjust="spacingAndGlyphs" >hsa-mir-103a-2-ext</text>
<text x="374.49" y="9.90" font-size="7.8" font-weight="normal" fill="#141414" stroke="#141414" stroke-width="0.25" textLength="69.66" lengthAdjust="spacingAndGlyphs" >hsa-mir-106b-ext</text>
<text x="117.59" y="274.00" font-size="7.8" font-weight="normal" fill="#141414" stroke="#141414" stroke-width="0.25" textLength="72.35" lengthAdjust="spacingAndGlyphs" >hsa-mir-19b-1-ext</text>
<text x="375.74" y="274.00" font-size="7.8" font-weight="normal" fill="#141414" stroke="#141414" stroke-width="0.25" textLength="67.30" lengthAdjust="spacingAndGlyphs" >hsa-mir-16-1-ext</text>
<path d="M149.30,34.00 L206.40,34.00 A24.20,17.30 0 1 1 206.40,51.90 L149.30,51.90" fill="none" stroke="#000" stroke-width="1.8" stroke-linejoin="round"/>
<path d="M405.00,33.80 L462.70,33.80 A24.20,17.30 0 1 1 462.70,51.80 L424.60,51.80" fill="none" stroke="#000" stroke-width="1.8" stroke-linejoin="round"/>
<path d="M150.00,296.70 L207.60,296.70 A24.20,17.30 0 1 1 207.60,314.50 L58.40,314.50" fill="none" stroke="#000" stroke-width="1.8" stroke-linejoin="round"/>
<path d="M406.00,296.30 L463.90,296.30 A24.20,17.30 0 1 1 463.90,314.10 L314.40,314.10" fill="none" stroke="#000" stroke-width="1.8" stroke-linejoin="round"/>
<line x1="57.30" y1="34.00" x2="60.00" y2="34.00" stroke="#000" stroke-width="1.7"/>
<line x1="57.30" y1="51.90" x2="60.00" y2="51.90" stroke="#000" stroke-width="1.7"/>
<line x1="313.20" y1="33.80" x2="316.00" y2="33.80" stroke="#000" stroke-width="1.7"/>
<line x1="313.20" y1="51.70" x2="316.00" y2="51.70" stroke="#000" stroke-width="1.7"/>
<line x1="58.30" y1="296.80" x2="60.80" y2="296.80" stroke="#000" stroke-width="1.7"/>
<line x1="314.40" y1="296.25" x2="316.60" y2="296.25" stroke="#000" stroke-width="1.7"/>
<text x="63.08" y="36.00" font-size="5.1" font-weight="bold" fill="#000" stroke="#000" stroke-width="0.4" textLength="82.56" lengthAdjust="spacingAndGlyphs" >GAGCUGCGUCUUUGUGCUUUC</text>
<text x="63.08" y="53.75" font-size="5.1" font-weight="bold" fill="#000" stroke="#000" stroke-width="0.4" textLength="82.56" lengthAdjust="spacingAndGlyphs" >CCGUCGGGUAAGAACCAAGAA</text>
<text x="319.98" y="35.60" font-size="5.1" font-weight="bold" fill="#000" stroke="#000" stroke-width="0.4" textLength="82.46" lengthAdjust="spacingAndGlyphs" >CCGCUCCAGCCCUGCCGGGGC</text>
<text x="318.88" y="53.50" font-size="5.1" font-weight="bold" fill="#000" stroke="#000" stroke-width="0.4" textLength="102.75" lengthAdjust="spacingAndGlyphs" >UGCCUGCGACACGCACGGGACGACCU</text>
<text x="63.65" y="298.75" font-size="4.6" font-weight="bold" fill="#000" stroke="#000" stroke-width="0.25" textLength="83.90" lengthAdjust="spacingAndGlyphs" >UGUUACUGAACACUGUUCUAUGGUU</text>
<text x="318.66" y="297.90" font-size="5.1" font-weight="bold" fill="#000" stroke="#000" stroke-width="0.4" textLength="83.39" lengthAdjust="spacingAndGlyphs" >UAGCAAUGUCAGCAGUGCCU</text>
<text x="74.01" y="28.00" font-size="6.9" font-weight="normal" fill="#0c0c0c" stroke="#0c0c0c" stroke-width="0.22" textLength="61.84" lengthAdjust="spacingAndGlyphs" >hsa-5&#8217;-moR-103a-2</text>
<text x="74.01" y="62.50" font-size="6.9" font-weight="normal" fill="#0c0c0c" stroke="#0c0c0c" stroke-width="0.22" textLength="61.84" lengthAdjust="spacingAndGlyphs" >hsa-3&#8217;-moR-103a-2</text>
<text x="334.91" y="27.90" font-size="6.9" font-weight="normal" fill="#0c0c0c" stroke="#0c0c0c" stroke-width="0.22" textLength="55.89" lengthAdjust="spacingAndGlyphs" >hsa-5&#8217;-moR-106b</text>
<text x="334.91" y="62.50" font-size="6.9" font-weight="normal" fill="#0c0c0c" stroke="#0c0c0c" stroke-width="0.22" textLength="55.89" lengthAdjust="spacingAndGlyphs" >hsa-3&#8217;-moR-106b</text>
<text x="75.01" y="290.00" font-size="6.9" font-weight="normal" fill="#0c0c0c" stroke="#0c0c0c" stroke-width="0.22" textLength="58.03" lengthAdjust="spacingAndGlyphs" >hsa-5&#8217;-moR-19b-1</text>
<text x="331.91" y="291.20" font-size="6.9" font-weight="normal" fill="#0c0c0c" stroke="#0c0c0c" stroke-width="0.22" textLength="54.34" lengthAdjust="spacingAndGlyphs" >hsa-5&#8217;-moR-16-1</text>
<text x="98.61" y="82.60" font-size="7.2" font-weight="normal" fill="#1c1c1c" stroke="#1c1c1c" stroke-width="0.25" textLength="56.59" lengthAdjust="spacingAndGlyphs" >hsa-miR-103a-2*</text>
<line x1="108.75" y1="87.75" x2="143.10" y2="87.75" stroke="#2c2c2c" stroke-width="1.0"/>
<text x="161.61" y="82.60" font-size="7.2" font-weight="normal" fill="#1c1c1c" stroke="#1c1c1c" stroke-width="0.25" textLength="46.26" lengthAdjust="spacingAndGlyphs" >hsa-miR-103a</text>
<line x1="166.25" y1="87.75" x2="200.60" y2="87.75" stroke="#2c2c2c" stroke-width="1.0"/>
<text x="357.36" y="78.40" font-size="7.2" font-weight="normal" fill="#1c1c1c" stroke="#1c1c1c" stroke-width="0.25" textLength="46.83" lengthAdjust="spacingAndGlyphs" >hsa-miR-106b</text>
<line x1="364.40" y1="83.40" x2="394.40" y2="83.40" stroke="#2c2c2c" stroke-width="1.0"/>
<text x="416.50" y="78.40" font-size="7.2" font-weight="normal" fill="#1c1c1c" stroke="#1c1c1c" stroke-width="0.25" textLength="50.39" lengthAdjust="spacingAndGlyphs" >hsa-miR-106b*</text>
<line x1="424.40" y1="83.40" x2="456.50" y2="83.40" stroke="#2c2c2c" stroke-width="1.0"/>
<text x="103.36" y="325.80" font-size="7.2" font-weight="normal" fill="#1c1c1c" stroke="#1c1c1c" stroke-width="0.25" textLength="52.23" lengthAdjust="spacingAndGlyphs" >hsa-miR-19b-1*</text>
<line x1="112.25" y1="330.80" x2="144.40" y2="330.80" stroke="#2c2c2c" stroke-width="1.0"/>
<text x="163.71" y="325.80" font-size="7.2" font-weight="normal" fill="#1c1c1c" stroke="#1c1c1c" stroke-width="0.25" textLength="42.58" lengthAdjust="spacingAndGlyphs" >hsa-miR-19b</text>
<line x1="167.90" y1="330.80" x2="199.75" y2="330.80" stroke="#2c2c2c" stroke-width="1.0"/>
<text x="361.51" y="356.90" font-size="7.2" font-weight="normal" fill="#1c1c1c" stroke="#1c1c1c" stroke-width="0.25" textLength="38.70" lengthAdjust="spacingAndGlyphs" >hsa-miR-16</text>
<line x1="364.40" y1="362.25" x2="394.75" y2="362.25" stroke="#2c2c2c" stroke-width="1.0"/>
<text x="416.50" y="356.90" font-size="7.2" font-weight="normal" fill="#1c1c1c" stroke="#1c1c1c" stroke-width="0.25" textLength="48.49" lengthAdjust="spacingAndGlyphs" >hsa-miR-16-1*</text>
<line x1="424.40" y1="362.25" x2="455.00" y2="362.25" stroke="#2c2c2c" stroke-width="1.0"/>
<text x="69.21" y="530.00" font-size="16.1" font-weight="normal" fill="#111" textLength="66.40" lengthAdjust="spacingAndGlyphs" >Extended</text>
<text x="140.38" y="530.00" font-size="16.1" font-weight="normal" fill="#111" textLength="48.68" lengthAdjust="spacingAndGlyphs" >hairpin</text>
<text x="193.16" y="530.00" font-size="16.1" font-weight="normal" fill="#111" textLength="25.07" lengthAdjust="spacingAndGlyphs" >(nt)</text>
<text x="330.51" y="530.70" font-size="16.1" font-weight="normal" fill="#111" textLength="66.40" lengthAdjust="spacingAndGlyphs" >Extended</text>
<text x="401.68" y="530.70" font-size="16.1" font-weight="normal" fill="#111" textLength="48.68" lengthAdjust="spacingAndGlyphs" >hairpin</text>
<text x="454.46" y="530.70" font-size="16.1" font-weight="normal" fill="#111" textLength="25.07" lengthAdjust="spacingAndGlyphs" >(nt)</text>
<text transform="translate(17.25,221.84) rotate(-90)" font-size="16.1" font-weight="normal" fill="#111" textLength="74.51" lengthAdjust="spacingAndGlyphs">Expression</text>
<text transform="translate(17.25,146.78) rotate(-90)" font-size="16.1" font-weight="normal" fill="#111" textLength="31.76" lengthAdjust="spacingAndGlyphs">(log</text>
<text transform="translate(17.25,116.37) rotate(-90)" font-size="16.1" font-weight="normal" fill="#111" textLength="15.67" lengthAdjust="spacingAndGlyphs">10</text>
<text transform="translate(17.25,96.83) rotate(-90)" font-size="16.1" font-weight="normal" fill="#111" textLength="31.14" lengthAdjust="spacingAndGlyphs">read</text>
<text transform="translate(17.25,63.73) rotate(-90)" font-size="16.1" font-weight="normal" fill="#111" textLength="47.90" lengthAdjust="spacingAndGlyphs">count)</text>
<text transform="translate(18.45,486.27) rotate(-90)" font-size="16.1" font-weight="normal" fill="#111" textLength="76.37" lengthAdjust="spacingAndGlyphs">Expression</text>
<text transform="translate(18.45,407.99) rotate(-90)" font-size="16.1" font-weight="normal" fill="#111" textLength="26.51" lengthAdjust="spacingAndGlyphs">(log</text>
<text transform="translate(23.90,379.87) rotate(-90)" font-size="8.0" font-weight="normal" fill="#111" stroke="#111" stroke-width="0.3" textLength="7.59" lengthAdjust="spacingAndGlyphs">10</text>
<text transform="translate(18.45,368.56) rotate(-90)" font-size="16.1" font-weight="normal" fill="#111" textLength="32.10" lengthAdjust="spacingAndGlyphs">read</text>
<text transform="translate(18.45,331.28) rotate(-90)" font-size="16.1" font-weight="normal" fill="#111" textLength="44.78" lengthAdjust="spacingAndGlyphs">count)</text>
</svg>
</body></html>
